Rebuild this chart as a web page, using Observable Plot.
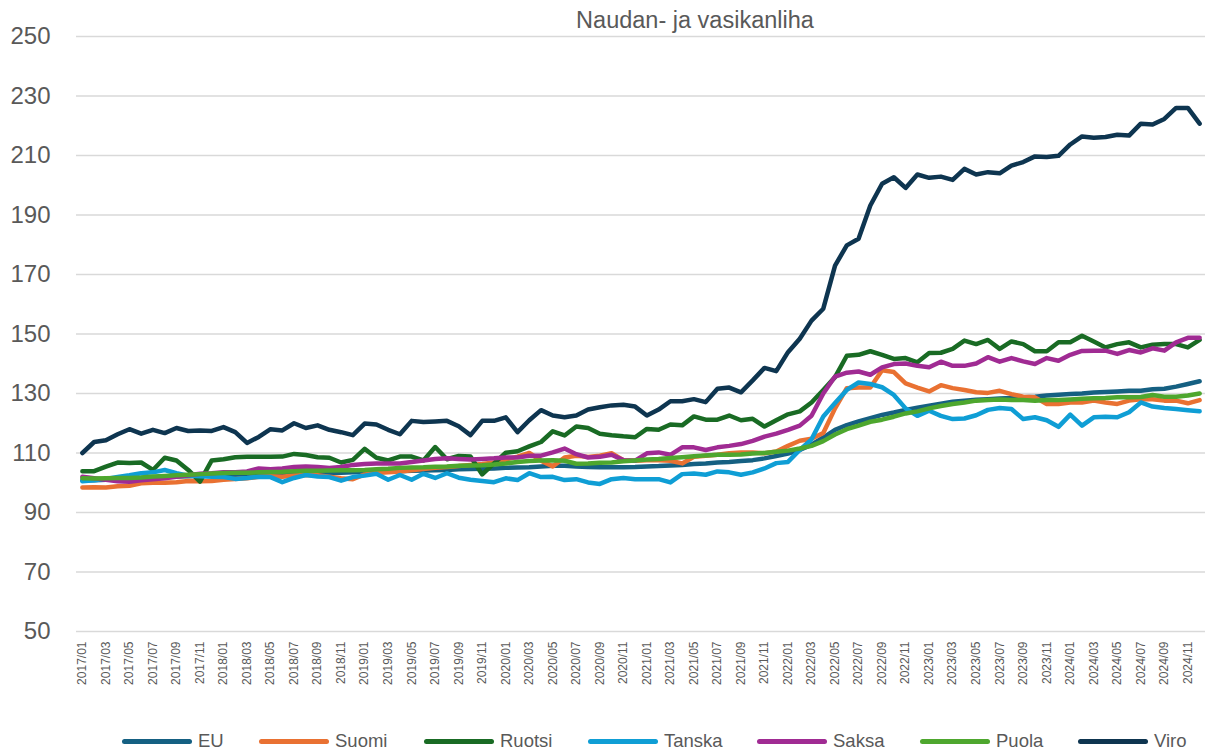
<!DOCTYPE html>
<html>
<head>
<meta charset="utf-8">
<script src="https://cdn.jsdelivr.net/npm/d3@7"></script>
<script src="https://cdn.jsdelivr.net/npm/@observablehq/plot@0.6"></script>
<style>
  html, body { margin: 0; padding: 0; background: #ffffff; }
  body { width: 1205px; height: 755px; overflow: hidden; font-family: "Liberation Sans", Arial, sans-serif; color: #595959; }
  #title { position: relative; height: 12px; }
  #title span { position: absolute; left: 695px; top: 5px; transform: translateX(-50%); font-size: 23.5px; line-height: 30px; white-space: nowrap; color: #595959; z-index: 2; }
  #legend { position: relative; height: 39px; }
  .item { position: absolute; top: 14px; height: 22px; display: flex; align-items: center; white-space: nowrap; }
  .sw { width: 70px; height: 5px; border-radius: 3px; margin-right: 6px; }
  .lt { font-size: 18.5px; color: #595959; }
</style>
</head>
<body>
<div id="title"><span>Naudan- ja vasikanliha</span></div>
<div id="chart"></div>
<div id="legend"></div>
<script>
// ---- data ----
const years = [2017, 2018, 2019, 2020, 2021, 2022, 2023, 2024];
const months = [];
for (const yr of years) for (let m = 1; m <= 12; m++) months.push(`${yr}/${String(m).padStart(2, "0")}`);
const tickLabels = months.filter((d, i) => i % 2 === 0);
const yTicks = [50, 70, 90, 110, 130, 150, 170, 190, 210, 230, 250];

const seriesNames = ["EU", "Suomi", "Ruotsi", "Tanska", "Saksa", "Puola", "Viro"];
const seriesColors = ["#156082", "#E97132", "#196B24", "#0F9ED5", "#A02B93", "#4EA72E", "#0E3550"];

const eu = [
  100.8, 100.8, 101.0, 101.2, 101.4, 101.6, 101.8, 102.0, 102.1, 102.2, 102.3, 102.4,
  102.6, 102.7, 102.8, 102.9, 103.0, 103.1, 103.2, 103.3, 103.3, 103.3, 103.4, 103.5,
  103.6, 103.7, 103.8, 103.9, 104.0, 104.1, 104.2, 104.3, 104.5, 104.6, 104.7, 104.8,
  105.0, 105.1, 105.2, 105.5, 105.7, 105.7, 105.5, 105.3, 105.2, 105.2, 105.2, 105.3,
  105.5, 105.6, 105.8, 106.0, 106.3, 106.5, 106.8, 107.0, 107.3, 107.6, 108.2, 109.0,
  109.8, 111.0, 112.8, 115.2, 117.8, 119.4, 120.6, 121.7, 122.8, 123.6, 124.5, 125.2,
  125.9, 126.6, 127.2, 127.6, 127.9, 128.1, 128.3, 128.5, 128.7, 128.9, 129.3, 129.6,
  129.8, 130.0, 130.3, 130.5, 130.7, 130.9, 130.9, 131.4, 131.6, 132.3, 133.2, 134.1
];
const suomi = [
  98.4, 98.5, 98.4, 98.8, 99.0, 99.8, 100.0, 100.0, 100.2, 100.6, 100.5, 100.6,
  101.0, 101.3, 101.5, 102.0, 102.2, 102.0, 102.4, 102.6, 102.5, 102.0, 101.5, 101.2,
  102.8, 103.3, 103.5, 103.8, 104.2, 104.6, 105.0, 105.3, 105.6, 106.0, 106.3, 106.8,
  107.8, 108.8, 110.0, 107.4, 105.5, 108.5, 109.1, 108.7, 109.1, 109.9, 107.6, 107.4,
  107.6, 107.6, 107.4, 106.5, 108.7, 109.1, 109.4, 109.9, 110.2, 110.2, 109.9, 110.5,
  112.4, 114.1, 114.8, 116.7, 125.0, 131.8, 132.0, 132.0, 137.8, 137.2, 133.4, 132.0,
  130.7, 132.8, 131.8, 131.2, 130.4, 130.2, 130.9, 129.8, 128.9, 128.7, 126.5, 126.5,
  127.0, 127.0, 127.6, 127.0, 126.5, 127.6, 128.1, 128.1, 127.6, 127.6, 126.7, 127.8
];
const ruotsi = [
  103.9, 103.9, 105.4, 106.8, 106.6, 106.8, 104.3, 108.4, 107.5, 104.3, 100.4, 107.5,
  107.9, 108.6, 108.7, 108.7, 108.7, 108.8, 109.7, 109.3, 108.6, 108.4, 106.8, 107.7,
  111.4, 108.4, 107.5, 108.8, 108.8, 107.5, 112.0, 107.9, 109.0, 108.8, 102.8, 106.5,
  110.1, 110.6, 112.2, 113.7, 117.3, 115.9, 118.9, 118.4, 116.5, 116.0, 115.6, 115.3,
  118.1, 117.8, 119.6, 119.3, 122.3, 121.2, 121.2, 122.6, 121.0, 121.5, 118.9, 121.0,
  123.0, 124.0, 127.0, 131.2, 135.5, 142.7, 143.0, 144.2, 143.0, 141.6, 141.9, 140.5,
  143.6, 143.7, 145.0, 147.8, 146.6, 148.0, 145.0, 147.5, 146.6, 144.2, 144.2, 147.2,
  147.2, 149.4, 147.5, 145.5, 146.6, 147.2, 145.5, 146.4, 146.6, 146.6, 145.5, 148.0
];
const tanska = [
  100.5, 100.8, 101.3, 101.9, 102.5, 103.2, 103.5, 104.3, 103.2, 102.4, 102.2, 102.0,
  101.9, 101.3, 101.6, 102.0, 101.9, 100.2, 101.6, 102.6, 102.1, 101.9, 100.7, 101.9,
  102.4, 103.0, 101.0, 102.6, 101.0, 103.0, 101.6, 103.2, 101.7, 101.0, 100.6, 100.2,
  101.5, 100.9, 103.2, 101.9, 102.0, 100.9, 101.2, 100.1, 99.6, 101.2, 101.6, 101.2,
  101.2, 101.2, 100.1, 102.9, 103.1, 102.7, 103.8, 103.5, 102.7, 103.5, 104.8, 106.6,
  107.0, 111.0, 114.6, 122.3, 126.8, 131.2, 133.7, 133.2, 132.1, 129.5, 125.0, 122.5,
  124.2, 122.5, 121.4, 121.6, 122.7, 124.5, 125.1, 124.8, 121.4, 122.0, 121.0, 118.8,
  122.9, 119.2, 122.0, 122.2, 122.0, 123.7, 127.0, 125.6, 125.1, 124.8, 124.4, 124.0
];
const saksa = [
  102.0, 101.5, 101.0, 100.5, 100.3, 100.8, 101.2, 101.5, 102.0, 102.5, 103.0, 103.2,
  103.5, 103.5, 103.8, 104.8, 104.5, 104.8, 105.3, 105.5, 105.3, 105.0, 105.3, 106.0,
  106.3, 106.5, 106.5, 106.5, 107.0, 107.5, 108.0, 108.2, 108.0, 107.8, 108.0, 108.2,
  108.5, 108.5, 109.1, 109.1, 110.2, 111.5, 109.6, 108.5, 108.7, 109.4, 107.6, 107.4,
  109.9, 110.2, 109.4, 111.9, 111.9, 111.0, 111.9, 112.4, 113.0, 114.1, 115.5, 116.5,
  117.8, 119.2, 122.5, 130.0, 135.7, 137.0, 137.4, 136.3, 138.8, 139.9, 140.1, 139.3,
  138.8, 140.7, 139.3, 139.3, 140.1, 142.2, 140.7, 141.9, 140.8, 139.9, 141.9, 141.0,
  143.0, 144.3, 144.4, 144.4, 143.3, 144.6, 143.8, 145.2, 144.4, 147.2, 148.7, 148.7
];
const puola = [
  101.5, 101.4, 101.5, 101.6, 101.6, 101.8, 102.1, 102.3, 102.5, 102.7, 102.9, 103.1,
  103.3, 103.4, 103.4, 103.5, 103.6, 103.7, 103.9, 104.0, 104.0, 104.1, 104.2, 104.2,
  104.3, 104.5, 104.7, 105.0, 105.1, 105.2, 105.4, 105.5, 105.7, 105.8, 105.9, 106.1,
  106.5, 107.0, 107.3, 107.5, 107.6, 107.4, 106.4, 106.5, 106.7, 106.8, 107.2, 107.5,
  107.8, 108.0, 108.3, 108.6, 108.9, 109.2, 109.4, 109.4, 109.5, 109.8, 110.0, 110.4,
  110.8, 111.5, 112.4, 114.0, 116.2, 118.0, 119.2, 120.5, 121.2, 122.2, 123.3, 124.0,
  125.0, 125.8, 126.5, 127.0, 127.6, 127.8, 128.0, 127.8, 127.8, 127.6, 127.8, 127.8,
  128.0, 128.2, 128.4, 128.5, 128.7, 128.7, 128.8, 129.5, 128.9, 128.9, 129.3, 130.0
];
const viro = [
  110.0, 113.7, 114.3, 116.3, 118.0, 116.5, 117.8, 116.7, 118.4, 117.4, 117.6, 117.4,
  118.7, 117.0, 113.4, 115.4, 118.0, 117.6, 120.0, 118.4, 119.3, 117.8, 117.0, 116.0,
  119.9, 119.6, 117.8, 116.3, 120.8, 120.4, 120.6, 120.8, 119.0, 116.0, 120.8, 120.8,
  122.0, 117.0, 121.0, 124.4, 122.6, 122.0, 122.6, 124.6, 125.4, 126.0, 126.2, 125.6,
  122.6, 124.6, 127.4, 127.4, 128.1, 127.1, 131.6, 132.0, 130.4, 134.4, 138.6, 137.5,
  143.9, 148.4, 154.5, 158.5, 173.0, 179.8, 182.0, 193.2, 200.5, 202.7, 199.1, 203.6,
  202.5, 202.9, 201.8, 205.5, 203.6, 204.4, 204.0, 206.6, 207.8, 209.7, 209.5, 209.9,
  213.7, 216.4, 216.0, 216.2, 217.0, 216.7, 220.7, 220.4, 222.3, 226.0, 226.0, 220.7
];

// ---- build table ----
const seriesValues = [eu, suomi, ruotsi, tanska, saksa, puola, viro];
const rows = seriesNames.flatMap((name, s) =>
  seriesValues[s].map((v, i) => ({series: name, month: months[i], value: v}))
);

const chart = Plot.plot({
  width: 1205,
  height: 704,
  marginTop: 24,
  marginBottom: 85,
  marginLeft: 76,
  marginRight: 0,
  style: {fontFamily: "'Liberation Sans', Arial, sans-serif", color: "#595959", background: "transparent"},
  x: {type: "point", domain: months, padding: 0.5},
  y: {domain: [50, 250]},
  color: {domain: seriesNames, range: seriesColors},
  marks: [
    Plot.gridY(yTicks, {stroke: "#D9D9D9", strokeOpacity: 1, strokeWidth: 1.5}),
    Plot.axisY(yTicks, {tickSize: 0, tickPadding: 26, fontSize: 24, label: null, fill: "#595959"}),
    Plot.axisX(tickLabels, {tickSize: 0, tickPadding: 10, tickRotate: -90, fontSize: 12, label: null, fill: "#595959"}),
    Plot.lineY(rows, {x: "month", y: "value", z: "series", stroke: "series", strokeWidth: 4.5, strokeLinejoin: "round", strokeLinecap: "round"})
  ]
});
document.getElementById("chart").appendChild(chart);

// ---- legend ----
const legendLefts = [122, 259, 424, 588, 757, 920, 1078];
const legend = document.getElementById("legend");
seriesNames.forEach((name, i) => {
  const item = document.createElement("div");
  item.className = "item";
  item.style.left = legendLefts[i] + "px";
  const sw = document.createElement("div");
  sw.className = "sw";
  sw.style.background = seriesColors[i];
  const lt = document.createElement("span");
  lt.className = "lt";
  lt.textContent = name;
  item.appendChild(sw);
  item.appendChild(lt);
  legend.appendChild(item);
});
</script>
</body>
</html>
